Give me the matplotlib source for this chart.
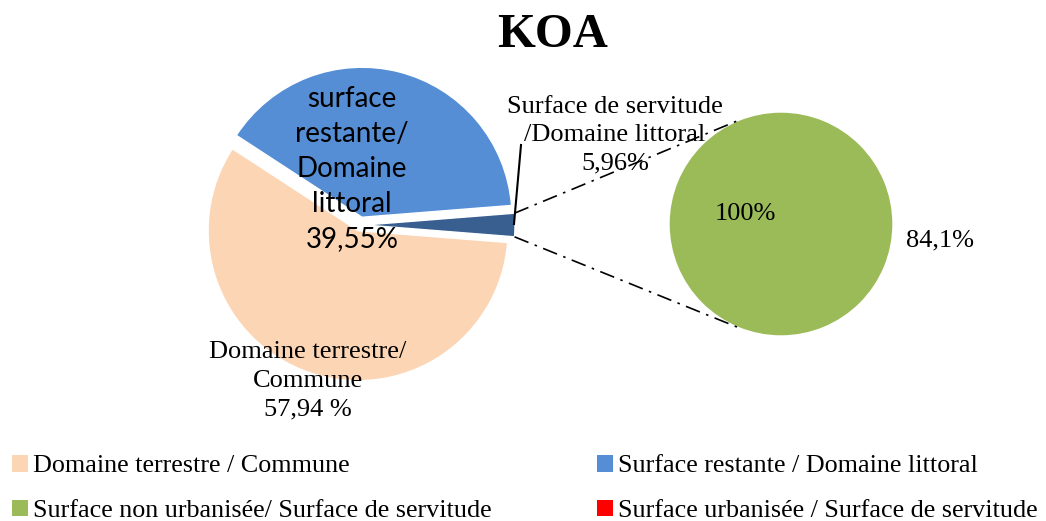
import numpy as np
import matplotlib.pyplot as plt
from matplotlib.patches import Patch

# data
main_labels = ["Surface de servitude / Domaine littoral", "Surface restante / Domaine littoral", "Domaine terrestre / Commune"]
main_values = [2.51, 39.55, 57.94]
main_colors = ["#385F8F", "#558ED5", "#FCD5B4"]
sub_values = [100.0]
sub_colors = ["#9BBB59"]

legend_labels = ["Domaine terrestre / Commune", "Surface non urbanisée/ Surface de servitude",
                 "Surface restante / Domaine littoral", "Surface urbanisée / Surface de servitude"]
legend_colors = ["#FCD5B4", "#9BBB59", "#558ED5", "#FF0000"]

W, H = 1046, 521
def Y(p):
    return H - p   # pixel row -> data y

serif = "Liberation Serif"
sans = "Lato"

fig = plt.figure(figsize=(W / 100, H / 100), dpi=100)
ax = fig.add_axes([0, 0, 1, 1])

c1 = (360, Y(225))
r1 = 150
start = -main_values[0] / 2 * 3.6
# explode is in data units (pixels here)
w1, _ = ax.pie(main_values, colors=main_colors, radius=r1, center=c1, startangle=start,
               explode=[5, 8, 6], wedgeprops=dict(edgecolor="white", linewidth=1))

c2 = (781, Y(224))
r2 = 112
w2, _ = ax.pie(sub_values, colors=sub_colors, radius=r2, center=c2, startangle=90,
               wedgeprops=dict(edgecolor="white", linewidth=1))

ax.set_xlim(0, W)
ax.set_ylim(0, H)
ax.set_aspect("equal")
ax.axis("off")

# connector lines from the small slice to the second pie
sc = w1[0].center
t1, t2 = np.deg2rad(w1[0].theta1), np.deg2rad(w1[0].theta2)
p_top = (sc[0] + r1 * np.cos(t2), sc[1] + r1 * np.sin(t2))
p_bot = (sc[0] + r1 * np.cos(t1), sc[1] + r1 * np.sin(t1))
a_top, a_bot = np.deg2rad(112), np.deg2rad(-112)
q_top = (c2[0] + r2 * np.cos(a_top), c2[1] + r2 * np.sin(a_top))
q_bot = (c2[0] + r2 * np.cos(a_bot), c2[1] + r2 * np.sin(a_bot))
ax.plot([p_top[0], q_top[0]], [p_top[1], q_top[1]], color="black", lw=1.2, ls=(0, (9, 4, 1.5, 4)))
ax.plot([p_bot[0], q_bot[0]], [p_bot[1], q_bot[1]], color="black", lw=1.2, ls=(0, (9, 4, 1.5, 4)))

# leader line for the small slice label
ax.plot([514, 521], [Y(224), Y(145)], color="black", lw=1.5)

# labels
ax.text(352, Y(169), "surface\nrestante/\nDomaine\nlittoral\n39,55%", family=sans, fontsize=20,
        ha="center", va="center", linespacing=1.42)
ax.text(308, Y(381), "Domaine terrestre/\nCommune\n57,94 %", family=serif, fontsize=19,
        ha="center", va="center", linespacing=1.4)
ax.text(615, Y(135), "Surface de servitude\n/Domaine littoral\n5,96%", family=serif, fontsize=19,
        ha="center", va="center", linespacing=1.38)
ax.text(745, Y(214), "100%", family=serif, fontsize=19, ha="center", va="center")
ax.text(940, Y(240), "84,1%", family=serif, fontsize=19, ha="center", va="center")

fig.text(553 / W, 1 - 35 / H, "KOA", family=serif, fontsize=35, fontweight="bold", ha="center", va="center")

handles = [Patch(facecolor=c, edgecolor="none") for c in legend_colors]
fig.legend(handles, legend_labels, loc="upper left", bbox_to_anchor=(12 / W, 1 - 455 / H), ncol=2,
           frameon=False, prop=dict(family=serif, size=18.8), handlelength=0.6, handleheight=0.6,
           handletextpad=0.2, columnspacing=4.05, labelspacing=0.85, borderpad=0, borderaxespad=0)

fig.savefig("out.png", dpi=100)
